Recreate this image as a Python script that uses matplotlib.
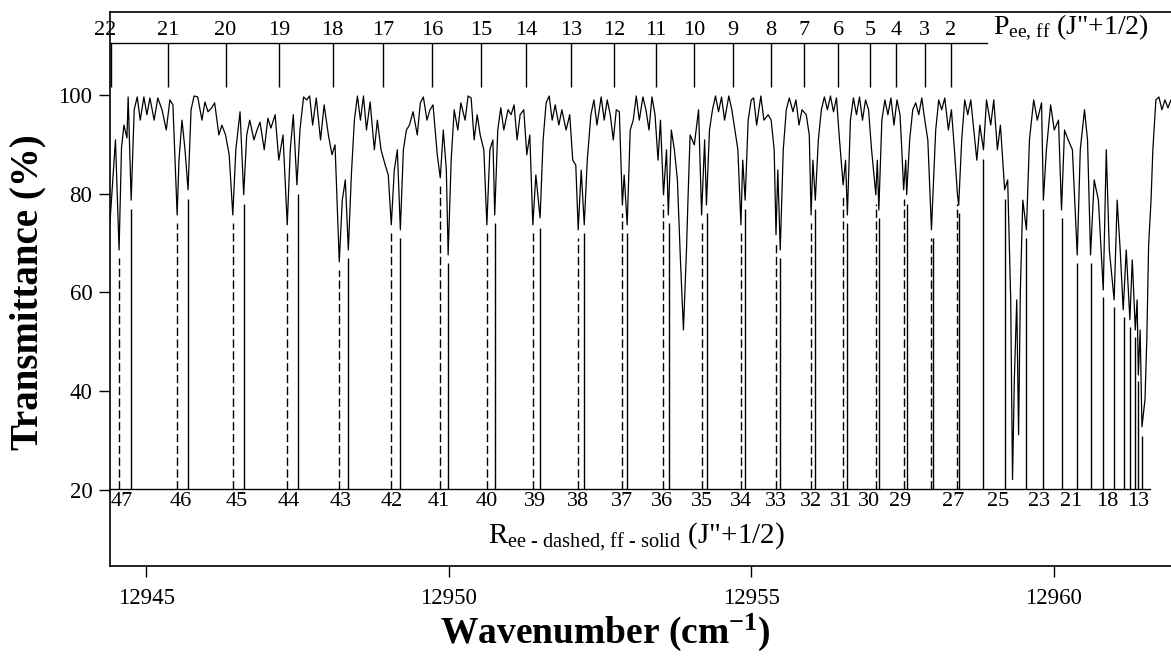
import matplotlib
matplotlib.use("Agg")
import matplotlib.pyplot as plt

plt.rcParams["font.family"] = ["Liberation Serif", "DejaVu Serif"]
plt.rcParams["mathtext.fontset"] = "custom"
plt.rcParams["mathtext.rm"] = "Liberation Serif"
plt.rcParams["mathtext.it"] = "Liberation Serif:italic"
plt.rcParams["mathtext.bf"] = "Liberation Serif:bold"

# ---- spectrum (wavenumber in cm-1, transmittance in %) ----
spec_wn = [
    12944.40, 12944.49, 12944.55, 12944.59, 12944.63, 12944.68, 12944.70, 12944.75, 12944.80, 12944.85,
    12944.90, 12944.96, 12945.01, 12945.06, 12945.13, 12945.19, 12945.26, 12945.33, 12945.39, 12945.44,
    12945.51, 12945.54, 12945.59, 12945.64, 12945.69, 12945.74, 12945.79, 12945.85, 12945.92, 12945.97,
    12946.02, 12946.08, 12946.13, 12946.20, 12946.25, 12946.31, 12946.37, 12946.43, 12946.48, 12946.55,
    12946.61, 12946.66, 12946.71, 12946.78, 12946.83, 12946.88, 12946.95, 12947.01, 12947.06, 12947.13,
    12947.19, 12947.26, 12947.33, 12947.38, 12947.43, 12947.49, 12947.54,
    12947.60, 12947.65, 12947.70, 12947.75, 12947.81, 12947.88, 12947.94, 12948.01, 12948.07, 12948.12,
    12948.19, 12948.24, 12948.29, 12948.34, 12948.39, 12948.44, 12948.49, 12948.54, 12948.59, 12948.64,
    12948.70, 12948.77, 12948.82, 12948.88, 12948.95, 12949.00, 12949.05, 12949.10, 12949.15, 12949.20,
    12949.25, 12949.30, 12949.35, 12949.41, 12949.48, 12949.53, 12949.58, 12949.64, 12949.69, 12949.74,
    12949.81, 12949.86, 12949.91, 12949.96, 12949.99, 12950.04, 12950.09, 12950.15, 12950.20, 12950.27,
    12950.32, 12950.37, 12950.42, 12950.47, 12950.52, 12950.58, 12950.63, 12950.68, 12950.73, 12950.76,
    12950.81, 12950.86, 12950.91, 12950.98, 12951.03, 12951.08, 12951.13, 12951.18, 12951.24, 12951.29,
    12951.34, 12951.39, 12951.44, 12951.51, 12951.56, 12951.61, 12951.66, 12951.71, 12951.76, 12951.82,
    12951.87, 12951.94, 12952.00, 12952.05, 12952.10, 12952.14, 12952.19, 12952.24, 12952.29, 12952.35,
    12952.40, 12952.45,
    12952.52, 12952.57, 12952.62, 12952.67, 12952.72, 12952.77, 12952.82, 12952.87, 12952.90, 12952.95,
    12953.00, 12953.05, 12953.10, 12953.15, 12953.21, 12953.26, 12953.31, 12953.36, 12953.41, 12953.46,
    12953.50, 12953.55, 12953.60, 12953.63, 12953.68, 12953.73, 12953.78, 12953.83, 12953.88, 12953.93,
    12953.96, 12953.99,
    12954.06, 12954.13, 12954.18, 12954.23, 12954.26, 12954.31, 12954.36, 12954.41, 12954.46, 12954.51,
    12954.56, 12954.63, 12954.68, 12954.73, 12954.78, 12954.83, 12954.86, 12954.90, 12954.95, 12955.00,
    12955.04, 12955.09, 12955.16, 12955.21, 12955.28, 12955.33, 12955.38, 12955.41, 12955.44, 12955.48,
    12955.53, 12955.58, 12955.63, 12955.69, 12955.74, 12955.79, 12955.84, 12955.91, 12955.96, 12955.99,
    12956.02, 12956.06, 12956.11, 12956.16, 12956.21, 12956.26, 12956.31, 12956.36, 12956.41, 12956.46,
    12956.52, 12956.56, 12956.59, 12956.64, 12956.69, 12956.74, 12956.79, 12956.84, 12956.89, 12956.94,
    12956.99, 12957.06, 12957.085, 12957.11, 12957.16, 12957.21, 12957.26, 12957.31, 12957.36, 12957.41,
    12957.46,
    12957.49, 12957.52, 12957.555, 12957.57, 12957.62, 12957.67, 12957.72, 12957.77, 12957.82, 12957.87,
    12957.92, 12957.98, 12958.05, 12958.10, 12958.15, 12958.20, 12958.26, 12958.31, 12958.36, 12958.41,
    12958.43, 12958.48, 12958.53, 12958.58, 12958.63, 12958.68, 12958.73, 12958.78, 12958.84, 12958.89,
    12958.96, 12959.01, 12959.07, 12959.12, 12959.19, 12959.24, 12959.29, 12959.32, 12959.35, 12959.39,
    12959.42, 12959.45, 12959.49, 12959.55, 12959.60, 12959.67, 12959.73, 12959.80, 12959.83, 12959.88,
    12959.95, 12960.01, 12960.08, 12960.13, 12960.18, 12960.24, 12960.31, 12960.39, 12960.44, 12960.51,
    12960.56, 12960.61, 12960.67, 12960.74, 12960.82, 12960.87, 12960.92, 12961.00, 12961.05, 12961.10,
    12961.15, 12961.20, 12961.26, 12961.30, 12961.35, 12961.38, 12961.40, 12961.43, 12961.46, 12961.51,
    12961.54, 12961.57, 12961.61, 12961.64, 12961.69, 12961.74, 12961.79, 12961.84, 12961.89, 12961.94,
]
spec_t = [
    74.3, 90.9, 68.6, 89.3, 93.9, 91.3, 99.6, 78.7, 97.0, 99.6,
    94.9, 99.6, 96.0, 99.4, 94.9, 99.4, 97.0, 92.9, 99.0, 98.0,
    75.7, 86.8, 94.9, 88.9, 80.8, 97.0, 99.8, 99.6, 94.9, 98.6,
    96.6, 97.4, 98.4, 91.9, 93.9, 91.9, 87.9, 75.7, 88.9, 96.6,
    79.8, 91.9, 94.9, 90.9, 92.9, 94.5, 88.9, 95.3, 93.3, 96.0,
    86.8, 91.9, 73.7, 88.9, 96.0, 81.8, 92.9,
    99.6, 99.0, 99.8, 93.9, 99.4, 90.9, 98.0, 91.9, 87.9, 89.9,
    66.2, 78.7, 82.8, 68.6, 83.8, 94.9, 99.8, 94.9, 99.8, 92.9,
    98.6, 88.9, 94.9, 88.9, 85.8, 83.8, 73.7, 84.8, 88.9, 72.7,
    88.9, 92.9, 93.9, 96.6, 91.9, 98.4, 99.6, 94.9, 97.0, 98.0,
    87.9, 83.2, 92.9, 84.8, 67.6, 86.8, 97.0, 92.9, 98.4, 94.9,
    99.8, 99.4, 90.9, 96.0, 91.9, 88.9, 73.7, 88.9, 90.9, 75.7,
    92.9, 97.4, 92.9, 97.0, 96.0, 98.0, 90.9, 96.0, 97.0, 87.9,
    91.9, 73.7, 83.8, 75.1, 90.9, 98.4, 99.8, 94.9, 98.0, 93.9,
    97.0, 92.9, 96.0, 86.8, 85.8, 72.7, 84.8, 73.7, 86.8, 96.0,
    99.0, 93.9,
    99.6, 94.9, 99.0, 96.0, 90.9, 97.0, 96.6, 77.7, 83.8, 73.7,
    92.9, 94.9, 99.8, 94.9, 99.6, 97.0, 92.9, 99.6, 96.0, 86.8,
    94.9, 79.8, 88.9, 75.7, 92.9, 88.9, 82.8, 66.6, 52.4, 68.6,
    80.8, 91.9,
    89.9, 97.0, 75.7, 90.9, 77.7, 92.9, 97.0, 99.8, 96.6, 99.6,
    94.9, 99.8, 97.0, 92.9, 88.9, 73.7, 86.8, 78.7, 94.9, 99.0,
    99.4, 93.9, 99.8, 94.9, 96.0, 94.9, 88.9, 71.7, 84.8, 68.6,
    88.9, 97.0, 99.4, 96.6, 99.0, 93.9, 97.0, 96.0, 91.9, 75.7,
    86.8, 78.7, 90.9, 97.0, 99.6, 97.0, 99.8, 96.6, 99.4, 90.9,
    81.8, 86.8, 75.7, 94.9, 99.4, 96.0, 99.6, 94.9, 99.0, 97.0,
    88.9, 79.8, 86.8, 76.7, 94.9, 99.0, 96.0, 99.4, 93.9, 99.0,
    96.0,
    88.9, 80.8, 86.8, 79.8, 90.9, 97.0, 98.4, 96.0, 99.4, 94.9,
    90.9, 72.7, 92.9, 99.0, 97.0, 99.4, 92.9, 97.0, 88.9, 79.8,
    77.7, 90.9, 99.0, 96.0, 99.0, 92.9, 86.8, 93.9, 88.9, 99.0,
    93.9, 99.0, 88.9, 93.9, 80.8, 82.8, 58.5, 22.1, 42.3, 58.5,
    31.2, 60.5, 78.7, 72.7, 90.9, 99.0, 94.9, 98.4, 78.7, 88.9,
    98.0, 92.9, 94.9, 76.7, 92.9, 90.9, 88.9, 67.6, 88.9, 97.0,
    90.9, 67.6, 82.8, 78.7, 60.5, 88.9, 68.6, 58.5, 78.7, 68.6,
    56.5, 68.6, 54.5, 66.6, 52.4, 58.5, 43.3, 52.4, 32.8, 38.3,
    50.4, 69.6, 78.7, 88.9, 99.0, 99.6, 97.0, 99.0, 97.4, 99.0,
]
assert len(spec_wn) == len(spec_t)

# ---- R branch assignments (J"+1/2) ----
r_ee_j = list(range(47, 26, -1))
r_ee_wn = [12944.55, 12945.51, 12946.44, 12947.33, 12948.18, 12949.04, 12949.85, 12950.64,
           12951.40, 12952.14, 12952.87, 12953.54, 12954.18, 12954.83, 12955.41, 12955.99,
           12956.52, 12957.06, 12957.52, 12957.98, 12958.41]
r_ee_top = [67, 74, 74, 72, 64.5, 72, 81.5, 72, 72, 71, 76, 78, 74, 72, 70, 74, 80, 78, 79, 71, 78]

r_ff_j = list(range(47, 12, -1))
r_ff_wn = [12944.75, 12945.69, 12946.62, 12947.50, 12948.34, 12949.20, 12949.99, 12950.76,
           12951.51, 12952.24, 12952.94, 12953.64, 12954.27, 12954.90, 12955.48, 12956.06,
           12956.59, 12957.11, 12957.57, 12958.00, 12958.43, 12958.83, 12959.19, 12959.54,
           12959.83, 12960.13, 12960.39, 12960.61, 12960.82, 12961.00, 12961.16, 12961.27,
           12961.35, 12961.40, 12961.46]
r_ff_top = [77, 79, 78, 80, 67, 71, 66, 74, 73, 72, 72, 74, 76, 77, 67, 77, 74, 75, 78, 71,
            76, 87, 79, 71, 77, 75, 66, 66, 59, 57, 55, 53, 51, 42, 31]

r_labels = ["47", "46", "45", "44", "43", "42", "41", "40", "39", "38", "37", "36", "35",
            "34", "33", "32", "31", "30", "29", "27", "25", "23", "21", "18", "13"]
r_label_wn = [12944.60, 12945.57, 12946.50, 12947.36, 12948.22, 12949.06, 12949.84, 12950.62,
              12951.42, 12952.14, 12952.86, 12953.53, 12954.18, 12954.83, 12955.41, 12955.99,
              12956.49, 12956.94, 12957.47, 12958.34, 12959.09, 12959.76, 12960.29, 12960.89,
              12961.40]

# ---- P branch assignments (J"+1/2) ----
p_labels = [str(j) for j in range(22, 1, -1)]
p_wn = [12944.42, 12945.36, 12946.31, 12947.20, 12948.08, 12948.92, 12949.73, 12950.53,
        12951.28, 12952.02, 12952.74, 12953.42, 12954.06, 12954.70, 12955.32, 12955.88,
        12956.44, 12956.96, 12957.40, 12957.87, 12958.30]
p_label_wn = [12944.32] + p_wn[1:]

# ---- layout constants ----
X_MIN, X_MAX = 12944.405, 12961.94
Y_MIN, Y_MAX = 4.6, 116.8
R_BASE = 20.2
P_BASE, P_TICK_END = 110.5, 101.6
P_LINE_END = 12958.90
R_LINE_END = 12961.59

fig = plt.figure(figsize=(11.71, 6.57), dpi=100)
ax = fig.add_axes([0.0942, 0.1385, 0.9058, 0.8432])

ax.plot(spec_wn, spec_t, color="black", lw=0.9)

# R branch: ee dashed, ff solid, drawn from the baseline up to each line
for x, top in zip(r_ee_wn, r_ee_top):
    ax.plot([x, x], [R_BASE, top], color="black", lw=1.0, ls=(0, (6, 2.5)))
ax.vlines(r_ff_wn, R_BASE, r_ff_top, color="black", lw=1.0)
ax.plot([X_MIN, R_LINE_END], [R_BASE, R_BASE], color="black", lw=1.0)
for x, s in zip(r_label_wn, r_labels):
    ax.text(x, R_BASE - 0.6, s, ha="center", va="top", fontsize=16)
ax.text(12953.1, 10.5, r'R$_{\text{ee - dashed, ff - solid}}$ (J"+1/2)',
        ha="center", va="center", fontsize=21)

# P branch comb along the top
ax.vlines(p_wn, P_TICK_END, P_BASE, color="black", lw=1.0)
ax.plot([X_MIN, P_LINE_END], [P_BASE, P_BASE], color="black", lw=1.0)
for x, s in zip(p_label_wn, p_labels):
    ax.text(x, P_BASE + 0.6, s, ha="center", va="bottom", fontsize=16)
ax.text(12959.0, 113.6, r'P$_{\text{ee, ff}}$ (J"+1/2)', ha="left", va="center", fontsize=20)

ax.set_xlim(X_MIN, X_MAX)
ax.set_ylim(Y_MIN, Y_MAX)
ax.set_xticks([12945, 12950, 12955, 12960])
ax.set_yticks([20, 40, 60, 80, 100])
ax.tick_params(direction="out", length=8, width=1, labelsize=16.5)
ax.tick_params(axis="x", pad=8)
ax.tick_params(axis="y", pad=5)
ax.spines["right"].set_visible(False)
for side in ("left", "top", "bottom"):
    ax.spines[side].set_linewidth(1.2)

fig.text(605 / 1171, 1 - 632 / 657, r"Wavenumber (cm$^{\mathbf{-1}}$)",
         ha="center", va="center", fontsize=27, fontweight="bold")
fig.text(28 / 1171, 1 - 292 / 657, "Transmittance (%)", rotation=90,
         ha="center", va="center", fontsize=28, fontweight="bold")

fig.savefig("out.png", dpi=100)
